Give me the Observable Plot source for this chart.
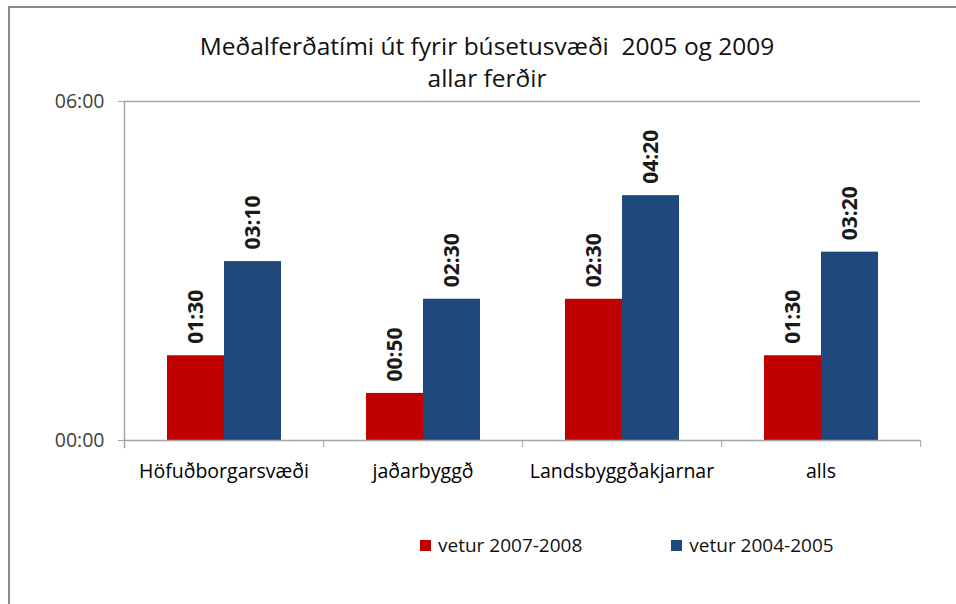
<!DOCTYPE html>
<html><head><meta charset="utf-8">
<script src="https://cdn.jsdelivr.net/npm/d3@7"></script>
<script src="https://cdn.jsdelivr.net/npm/@observablehq/plot@0.6"></script>
<style>
body{margin:0;background:#fff;}
#wrap{position:relative;width:956px;height:604px;overflow:hidden;font-family:"Open Sans",sans-serif;}
#frame{position:absolute;left:8px;top:6px;width:980px;height:700px;border-left:2px solid #8c8c8c;border-top:2px solid #8c8c8c;}
#title{position:absolute;left:9px;width:956px;top:30px;text-align:center;font-size:24.5px;line-height:32px;color:#111;}
#chart{position:absolute;left:0;top:0;}
#legend{position:absolute;left:420px;top:532px;display:flex;align-items:center;font-size:19px;color:#111;}
#legend .item{display:flex;align-items:center;margin-right:89px;}
#legend .sw{width:11px;height:11px;margin-right:7px;}
</style></head>
<body><div id="wrap"><div id="frame"></div><div id="title">Meðalferðatími út fyrir búsetusvæði&nbsp; 2005 og 2009<br>allar ferðir</div><div id="chart"></div><div id="legend"></div></div>
<script>
const categories = ["Höfuðborgarsvæði","jaðarbyggð","Landsbyggðakjarnar","alls"];
const series = ["vetur 2007-2008","vetur 2004-2005"];
const minutes2008 = [90,50,150,90];
const minutes2005 = [190,150,260,200];
const colors = ["#C00000","#1F497D"];
const yTicks = [0,360];

const fmt = m => String(Math.floor(m/60)).padStart(2,"0") + ":" + String(m%60).padStart(2,"0");
const data = [];
categories.forEach((c,i)=>{
  data.push({cat:c, series:series[0], value:minutes2008[i]});
  data.push({cat:c, series:series[1], value:minutes2005[i]});
});

const W=956, H=500, mL=123, mR=36, mT=101, mB=60;
const half = (W-mL-mR)/categories.length/2;
const font = "'Open Sans',sans-serif";

const chart = Plot.plot({
  width:W, height:H, marginLeft:mL, marginRight:mR, marginTop:mT, marginBottom:mB,
  style:{fontFamily:font, background:"transparent"},
  fx:{domain:categories, padding:0, label:null},
  x:{domain:series, paddingInner:0, paddingOuter:0.74, axis:null},
  y:{domain:[0,360]},
  color:{domain:series, range:colors},
  marks:[
    Plot.ruleY([360],{stroke:"#a6a6a6", strokeWidth:1.5}),
    Plot.barY(data,{fx:"cat", x:"series", y:"value", fill:"series"}),
    Plot.ruleY([0],{stroke:"#a6a6a6", strokeWidth:1.5}),
    Plot.text(data,{fx:"cat", x:"series", y:"value", text:d=>fmt(d.value), rotate:-90, textAnchor:"start", lineAnchor:"middle", dy:-12, fontSize:21, fontWeight:"bold", fill:"#1a1a1a"}),
    Plot.axisY({ticks:yTicks, tickFormat:fmt, tickSize:6, tickPadding:14, stroke:"#a6a6a6", fill:"#404040", fontSize:19.5, label:null}),
    Plot.frame({anchor:"left", facetAnchor:"left", stroke:"#a6a6a6", strokeWidth:1.5, insetBottom:-7}),
    Plot.axisFx({anchor:"bottom", tickSize:7, tickFormat:()=>"", dx:half, stroke:"#a6a6a6", label:null}),
    Plot.axisFx({anchor:"bottom", tickSize:0, tickPadding:24, fontSize:19.5, fill:"#000", label:null})
  ]
});
document.getElementById("chart").appendChild(chart);

const legend = document.getElementById("legend");
series.forEach((s,i)=>{
  const it = document.createElement("div"); it.className="item";
  const sw = document.createElement("div"); sw.className="sw"; sw.style.background=colors[i];
  const t = document.createElement("span"); t.textContent=s;
  it.appendChild(sw); it.appendChild(t); legend.appendChild(it);
});
</script></body></html>
